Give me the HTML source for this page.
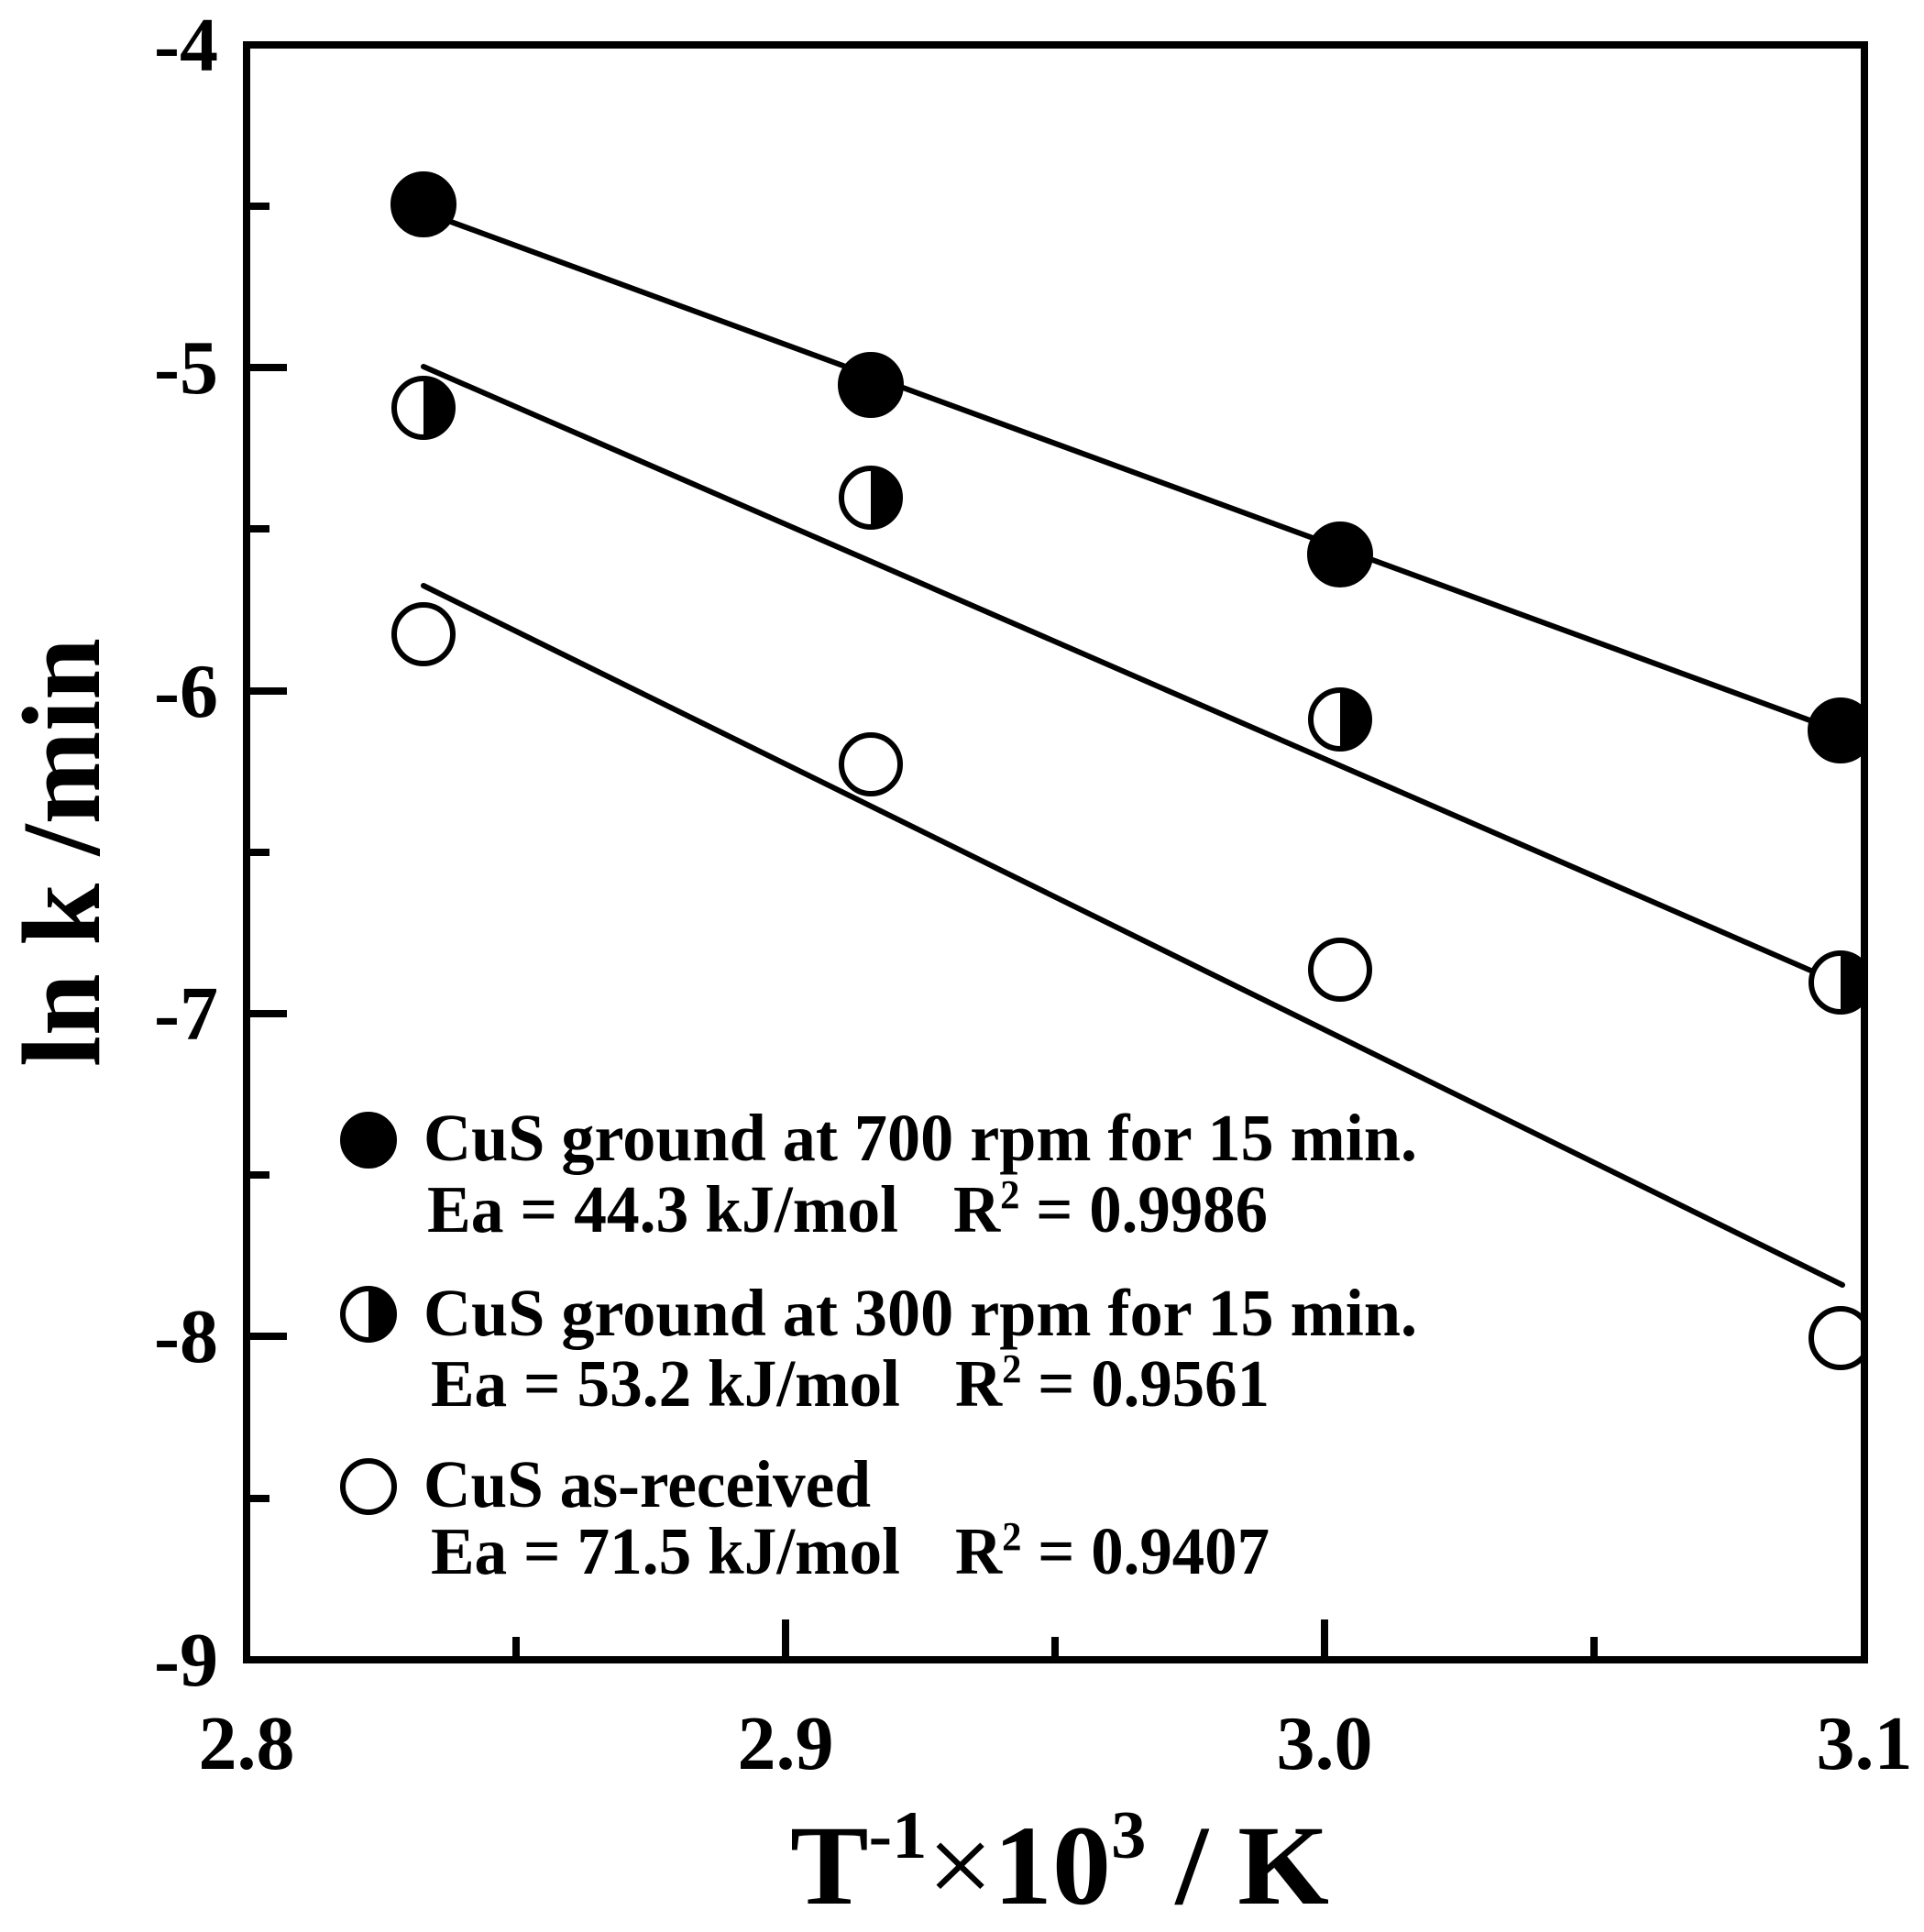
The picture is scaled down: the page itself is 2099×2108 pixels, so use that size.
<!DOCTYPE html>
<html><head><meta charset="utf-8"><style>html,body{margin:0;padding:0;background:#fff}svg{display:block}</style></head>
<body>
<svg width="2099" height="2108" viewBox="0 0 2099 2108" xmlns="http://www.w3.org/2000/svg" font-family="'Liberation Serif', serif" font-weight="bold">
<defs><clipPath id="c"><rect x="269" y="49" width="1765" height="1762"/></clipPath></defs>
<rect width="2099" height="2108" fill="#fff"/>
<g clip-path="url(#c)" stroke="#000" stroke-width="6" stroke-linecap="round">
<line x1="462" y1="231" x2="2010" y2="799"/>
<line x1="462" y1="400" x2="2010" y2="1074"/>
<line x1="462" y1="639" x2="2010" y2="1402"/>
<g fill="#000"><circle cx="462" cy="223" r="33"/><circle cx="950" cy="420" r="33"/><circle cx="1462" cy="605" r="33"/><circle cx="2008" cy="797" r="33"/></g>
<g fill="#fff" stroke-width="6">
<circle cx="462" cy="445" r="32"/><circle cx="950" cy="543" r="32"/><circle cx="1462" cy="785" r="32"/><circle cx="2008" cy="1072" r="32"/>
<circle cx="462" cy="692" r="32"/><circle cx="950" cy="834" r="32"/><circle cx="1462" cy="1058" r="32"/><circle cx="2008" cy="1460" r="32"/>
</g>
<g fill="#000" stroke="none">
<path d="M462 413 A32 32 0 0 1 462 477Z"/><path d="M950 511 A32 32 0 0 1 950 575Z"/><path d="M1462 753 A32 32 0 0 1 1462 817Z"/><path d="M2008 1040 A32 32 0 0 1 2008 1104Z"/>
</g>
</g>
<g stroke="#000" stroke-width="8" fill="none">
<rect x="269" y="49" width="1765" height="1762"/>
<path d="M269 401H313M269 754H313M269 1106H313M269 1458H313M269 225H294M269 577H294M269 930H294M269 1282H294M269 1635H294"/>
<path d="M857 1811V1767M1445 1811V1767M563 1811V1786M1151 1811V1786M1739 1811V1786"/>
</g>
<g font-size="84" text-anchor="end">
<text x="238" y="77">-4</text><text x="238" y="429">-5</text><text x="238" y="782">-6</text><text x="238" y="1134">-7</text><text x="238" y="1486">-8</text><text x="238" y="1839">-9</text>
</g>
<g font-size="84" text-anchor="middle">
<text x="269" y="1930">2.8</text><text x="857" y="1930">2.9</text><text x="1445" y="1930">3.0</text><text x="2034" y="1930">3.1</text>
</g>
<text transform="translate(108,930) rotate(-90)" font-size="122" text-anchor="middle" textLength="468" lengthAdjust="spacingAndGlyphs">ln k /min</text>
<text x="862" y="2077" font-size="124" textLength="588" lengthAdjust="spacingAndGlyphs">T<tspan font-size="74" dy="-50">-1</tspan><tspan font-weight="normal" dy="50">×</tspan>10<tspan font-size="74" dy="-50">3</tspan><tspan dy="50"> / K</tspan></text>
<g stroke="#000" stroke-width="6">
<circle cx="402" cy="1244" r="28" fill="#000"/>
<circle cx="402" cy="1434" r="28" fill="#fff"/>
<path d="M402 1406 A28 28 0 0 1 402 1462Z" fill="#000" stroke="none"/>
<circle cx="402" cy="1622" r="28" fill="#fff"/>
</g>
<g font-size="73">
<text x="462" y="1266" textLength="1084" lengthAdjust="spacingAndGlyphs">CuS ground at 700 rpm for 15 min.</text>
<text x="466" y="1344" textLength="514" lengthAdjust="spacingAndGlyphs">Ea = 44.3 kJ/mol</text>
<text x="1040" y="1344" textLength="343" lengthAdjust="spacingAndGlyphs">R<tspan font-size="44" dy="-26">2</tspan><tspan dy="26"> = 0.9986</tspan></text>
<text x="462" y="1457" textLength="1084" lengthAdjust="spacingAndGlyphs">CuS ground at 300 rpm for 15 min.</text>
<text x="470" y="1534" textLength="512" lengthAdjust="spacingAndGlyphs">Ea = 53.2 kJ/mol</text>
<text x="1042" y="1534" textLength="343" lengthAdjust="spacingAndGlyphs">R<tspan font-size="44" dy="-26">2</tspan><tspan dy="26"> = 0.9561</tspan></text>
<text x="462" y="1644" textLength="488" lengthAdjust="spacingAndGlyphs">CuS as-received</text>
<text x="470" y="1717" textLength="512" lengthAdjust="spacingAndGlyphs">Ea = 71.5 kJ/mol</text>
<text x="1042" y="1717" textLength="343" lengthAdjust="spacingAndGlyphs">R<tspan font-size="44" dy="-26">2</tspan><tspan dy="26"> = 0.9407</tspan></text>
</g>
</svg>
</body></html>
